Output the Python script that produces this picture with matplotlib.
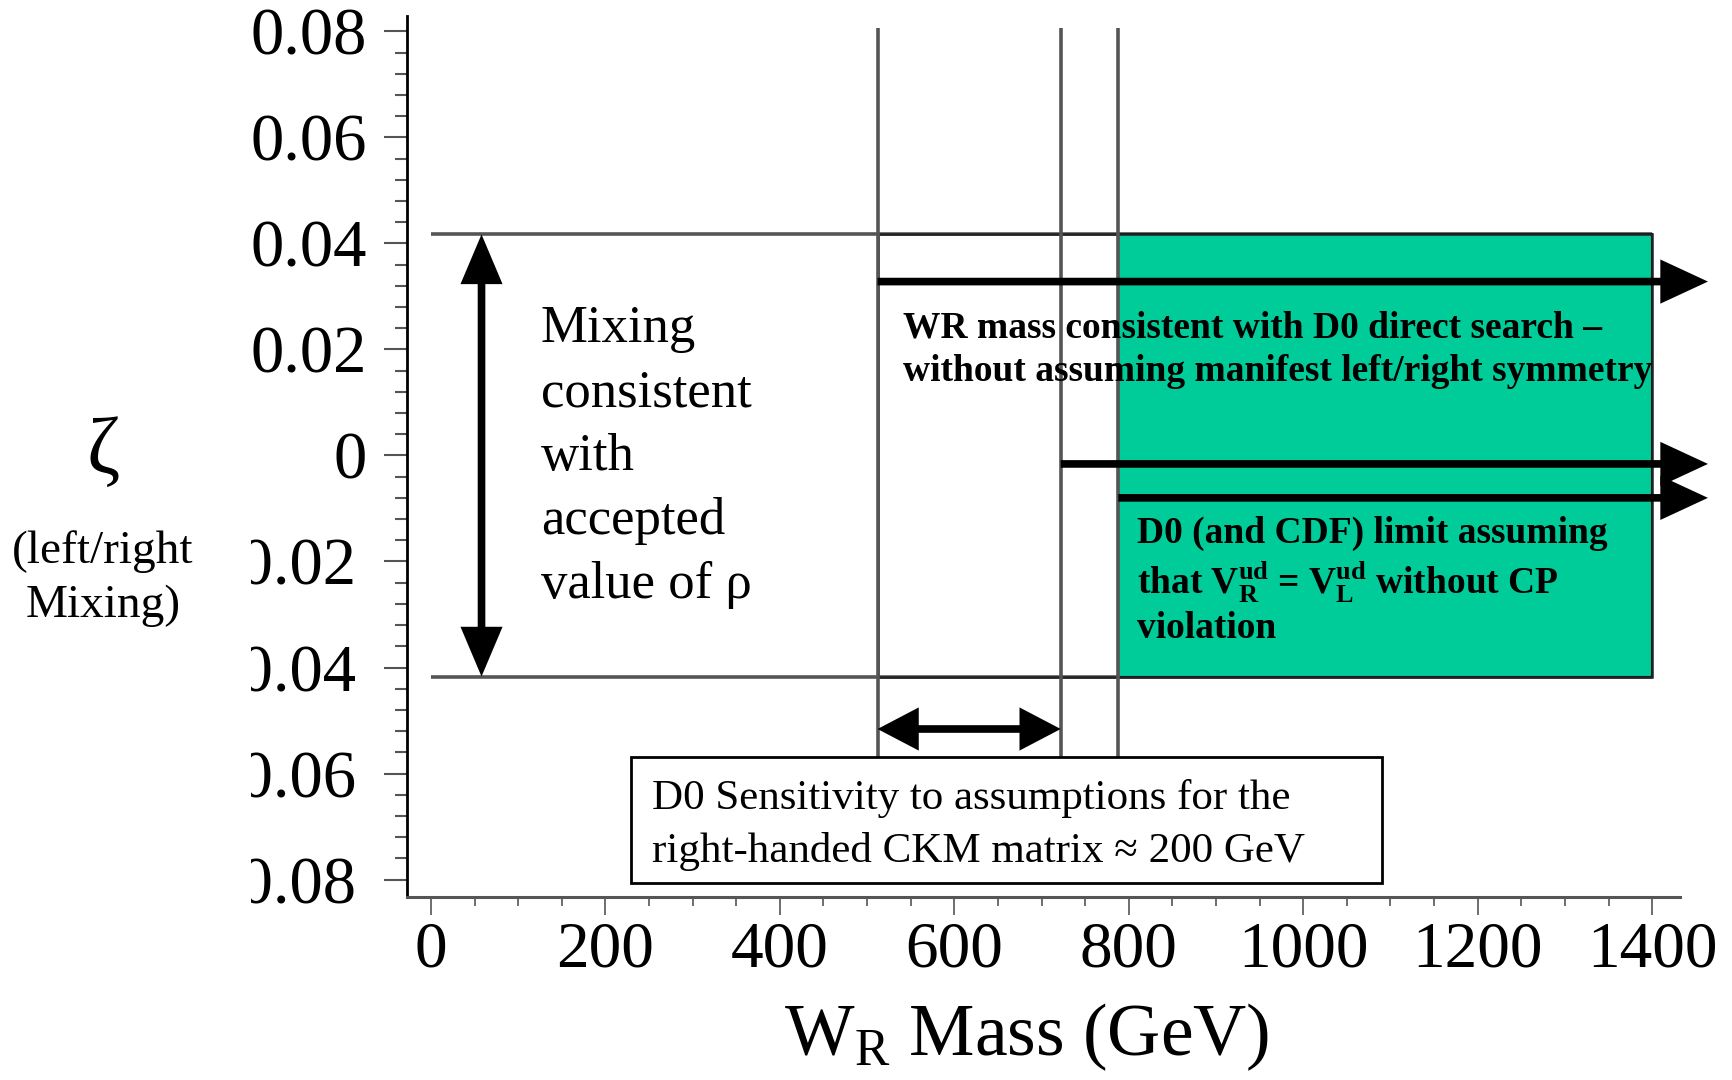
import matplotlib
matplotlib.use("Agg")
import matplotlib.pyplot as plt
from matplotlib.patches import Rectangle
from matplotlib.ticker import FixedLocator, MultipleLocator
from matplotlib.transforms import Bbox, TransformedBbox, ScaledTranslation

plt.rcParams['font.family'] = ['Liberation Serif', 'DejaVu Serif']
plt.rcParams['mathtext.fontset'] = 'custom'
plt.rcParams['mathtext.rm'] = 'Liberation Serif'
plt.rcParams['mathtext.it'] = 'Liberation Serif:italic'
plt.rcParams['mathtext.bf'] = 'Liberation Serif:bold'

# axis ticks
mass_ticks = [0, 200, 400, 600, 800, 1000, 1200, 1400]
zeta_ticks = [0.08, 0.06, 0.04, 0.02, 0.0, -0.02, -0.04, -0.06, -0.08]

# band of mixing allowed by rho
zeta_band = [-0.0417, 0.0417]
rho_arrow_mass = 58

# W_R mass limits (GeV)
limit_masses = [512, 722, 788]
limit_arrow_zeta = [0.0328, -0.0016, -0.0080]
arrow_tip_mass = 1464
green_mass = [788, 1400]
band_end_mass = 1400

# sensitivity arrow and its caption box
sens_zeta = -0.0516
sens_mass = [512, 722]
box_mass = [229, 1090]
box_zeta = [-0.0806, -0.0568]

GREEN = '#00CC99'
GREY = '#555555'

fig = plt.figure(figsize=(17.32, 10.8), dpi=100)
ax = fig.add_axes([0.2347, 0.1694, 0.7353, 0.8158])
ax.set_xlim(-28, 1432)
ax.set_ylim(-0.0833, 0.0829)

for side in ['top', 'right']:
    ax.spines[side].set_visible(False)
ax.spines['left'].set_color('black')
ax.spines['left'].set_linewidth(2.0)
ax.spines['bottom'].set_color(GREY)
ax.spines['bottom'].set_linewidth(2.2)

ax.xaxis.set_major_locator(FixedLocator(mass_ticks))
ax.xaxis.set_minor_locator(MultipleLocator(50))
ax.yaxis.set_major_locator(FixedLocator(zeta_ticks))
ax.yaxis.set_minor_locator(MultipleLocator(0.004))
ax.set_xticklabels([str(m) for m in mass_ticks])
ax.set_yticklabels(['0' if z == 0 else '\u2212%.2f' % abs(z) if z < 0 else '%.2f' % z
                    for z in zeta_ticks])

ax.tick_params(axis='y', which='major', direction='out', length=16.5, width=1.5,
               color=GREY, pad=12, labelsize=48)
ax.tick_params(axis='y', which='minor', direction='out', length=8.6, width=1.5, color=GREY)
ax.tick_params(axis='x', which='major', direction='out', length=13, width=1.2,
               color=GREY, pad=4, labelsize=47)
ax.tick_params(axis='x', which='minor', direction='out', length=6.5, width=1.2, color=GREY)

# negative labels sit a little further left and lose their leading part
clip = TransformedBbox(Bbox([[0.1450, 0.0], [1.0, 1.0]]), fig.transFigure)
shift = ScaledTranslation(-0.10, 0, fig.dpi_scale_trans)
for z, lab in zip(zeta_ticks, ax.get_yticklabels()):
    if z < 0:
        lab.set_transform(lab.get_transform() + shift)
    lab.set_clip_box(clip)
    lab.set_clip_on(True)

ax.set_xlabel(r'W$_{\mathrm{R}}$ Mass (GeV)', fontsize=53)
ax.xaxis.set_label_coords(0.487, -0.118)

# rho band edges
ax.hlines(zeta_band, 0, band_end_mass, colors=GREY, linewidth=2.6, zorder=1)

# excluded/allowed mass regions
ax.add_patch(Rectangle((green_mass[0], zeta_band[0]), green_mass[1] - green_mass[0],
                       zeta_band[1] - zeta_band[0], facecolor=GREEN, edgecolor='black',
                       linewidth=1.5, zorder=2))
ax.add_patch(Rectangle((limit_masses[0], zeta_band[0]), band_end_mass - limit_masses[0],
                       zeta_band[1] - zeta_band[0], fill=False, edgecolor='#222222',
                       linewidth=1.8, zorder=2.5))
ax.vlines(limit_masses, box_zeta[1], 0.0807, colors=GREY, linewidth=2.6, zorder=3)

head = dict(mutation_scale=20, linewidth=5.5, color='black', shrinkA=0, shrinkB=0,
            capstyle='butt', joinstyle='miter')
for m0, z in zip(limit_masses, limit_arrow_zeta):
    ax.annotate('', xy=(arrow_tip_mass, z), xytext=(m0, z), annotation_clip=False,
                arrowprops=dict(arrowstyle='-|>,head_length=1.25,head_width=0.58', **head),
                zorder=4)
ax.annotate('', xy=(rho_arrow_mass, zeta_band[1]), xytext=(rho_arrow_mass, zeta_band[0]),
            arrowprops=dict(arrowstyle='<|-|>,head_length=1.3,head_width=0.55', **head),
            zorder=4)
ax.annotate('', xy=(sens_mass[1], sens_zeta), xytext=(sens_mass[0], sens_zeta),
            arrowprops=dict(arrowstyle='<|-|>,head_length=1.05,head_width=0.55', **head),
            zorder=4)

ax.text(126, -0.0003, 'Mixing\nconsistent\nwith\naccepted\nvalue of \u03c1',
        fontsize=38, ha='left', va='center', linespacing=1.43, zorder=5)
ax.text(541, 0.0199, 'WR mass consistent with D0 direct search \u2013\n'
        'without assuming manifest left/right symmetry',
        fontsize=27, fontweight='bold', ha='left', va='center', linespacing=1.33, zorder=5)
ax.text(809, -0.0237, 'D0 (and CDF) limit assuming\n'
        r'that $\mathbf{V_R^{ud}}$ = $\mathbf{V_L^{ud}}$ without CP' '\nviolation',
        fontsize=27, fontweight='bold', ha='left', va='center', linespacing=1.25, zorder=5)

ax.add_patch(Rectangle((box_mass[0], box_zeta[0]), box_mass[1] - box_mass[0],
                       box_zeta[1] - box_zeta[0], facecolor='white', edgecolor='black',
                       linewidth=2, zorder=6))
ax.text(253, (box_zeta[0] + box_zeta[1]) / 2 - 0.001,
        'D0 Sensitivity to assumptions for the\nright-handed CKM matrix \u2248 200 GeV',
        fontsize=31, ha='left', va='center', linespacing=1.45, zorder=7)

fig.text(0.0595, 0.5806, '\u03b6', fontsize=58, ha='center', va='center')
fig.text(0.0595, 0.464, '(left/right\nMixing)', fontsize=34, ha='center', va='center',
         linespacing=1.36)

fig.savefig('out.png', dpi=100)
